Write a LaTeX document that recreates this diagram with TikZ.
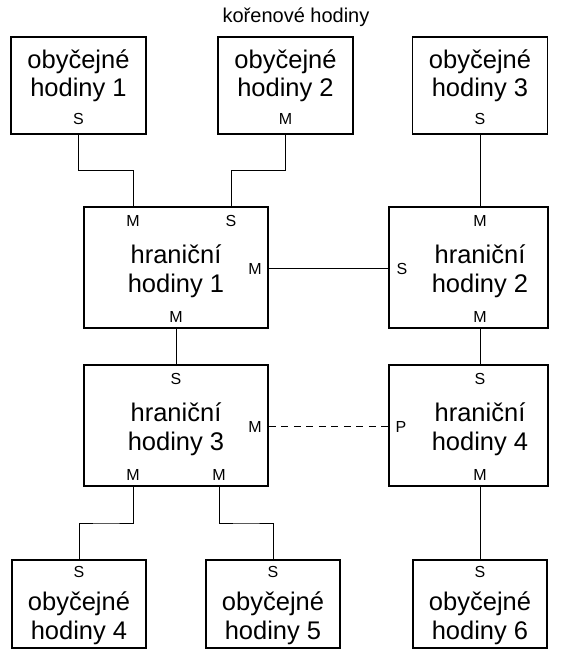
\documentclass[tikz,border=0pt]{standalone}
\usepackage{fontspec}
\setmainfont{Liberation Sans}
\usetikzlibrary{calc}
\begin{document}
\begin{tikzpicture}[x=1pt,y=-1pt,
  clockbox/.style={draw, line width=1.6pt, inner sep=0pt},
  ordbox/.style={clockbox, minimum width=135pt, minimum height=97pt},
  lowbox/.style={clockbox, minimum width=134pt, minimum height=88pt},
  bndbox/.style={clockbox, minimum height=121pt},
  big/.style={font=\fontsize{25.5}{30}\selectfont, anchor=base, inner sep=0pt},
  port/.style={font=\fontsize{16}{19}\selectfont, anchor=base, inner sep=0pt},
  titletext/.style={font=\fontsize{20}{24}\selectfont, anchor=base, inner sep=0pt},
  link/.style={line width=0.9pt},
  peerlink/.style={link, dash pattern=on 7pt off 5.5pt}]
\useasboundingbox (0,0) rectangle (560,660);

% root clock caption
\node[titletext] (root) at (296,23) {kořenové hodiny};

% ordinary clocks, top row
\node[ordbox] (o1) at (78.5,85.5) {};
\node[ordbox] (o2) at (285.5,85.5) {};
\node[ordbox] (o3) at (480,85.5) {};
\node[big] (o1a) at (78.5,69) {obyčejné};
\node[big] (o1b) at (78.5,97) {hodiny 1};
\node[port] (o1p) at (78.5,125) {S};
\node[big] (o2a) at (285.5,69) {obyčejné};
\node[big] (o2b) at (285.5,97) {hodiny 2};
\node[port] (o2p) at (285.5,125) {M};
\node[big] (o3a) at (480,69) {obyčejné};
\node[big] (o3b) at (480,97) {hodiny 3};
\node[port] (o3p) at (480,125) {S};

% boundary clocks
\node[bndbox, minimum width=184pt] (h1) at (176,267.5) {};
\node[bndbox, minimum width=159pt] (h2) at (468.5,267.5) {};
\node[bndbox, minimum width=184pt] (h3) at (176,425.5) {};
\node[bndbox, minimum width=159pt] (h4) at (468.5,425.5) {};

\node[big] (h1a) at (176,263) {hraniční};
\node[big] (h1b) at (176,292) {hodiny 1};
\node[port] (h1p1) at (133,226) {M};
\node[port] (h1p2) at (231,226) {S};
\node[port] (h1p3) at (255,274) {M};
\node[port] (h1p4) at (176,322) {M};

\node[big] (h2a) at (480,263) {hraniční};
\node[big] (h2b) at (480,292) {hodiny 2};
\node[port] (h2p1) at (480,226) {M};
\node[port] (h2p2) at (402,274) {S};
\node[port] (h2p3) at (480,322) {M};

\node[big] (h3a) at (176,421) {hraniční};
\node[big] (h3b) at (176,450) {hodiny 3};
\node[port] (h3p1) at (176,384) {S};
\node[port] (h3p2) at (255,432) {M};
\node[port] (h3p3) at (133,480) {M};
\node[port] (h3p4) at (219,480) {M};

\node[big] (h4a) at (480,421) {hraniční};
\node[big] (h4b) at (480,450) {hodiny 4};
\node[port] (h4p1) at (480,384) {S};
\node[port] (h4p2) at (401,432) {P};
\node[port] (h4p3) at (480,480) {M};

% ordinary clocks, bottom row
\node[lowbox] (o4) at (79,604) {};
\node[lowbox] (o5) at (273,604) {};
\node[lowbox] (o6) at (480,604) {};
\node[port] (o4p) at (79,577) {S};
\node[big] (o4a) at (79,610.5) {obyčejné};
\node[big] (o4b) at (79,639) {hodiny 4};
\node[port] (o5p) at (273,577) {S};
\node[big] (o5a) at (273,610.5) {obyčejné};
\node[big] (o5b) at (273,639) {hodiny 5};
\node[port] (o6p) at (480,577) {S};
\node[big] (o6a) at (480,610.5) {obyčejné};
\node[big] (o6b) at (480,639) {hodiny 6};

% port positions on box edges
\coordinate (h1in1) at (h1.north -| h1p1);
\coordinate (h1in2) at (h1.north -| h1p2);
\coordinate (h2in) at (h2.north -| h2p1);
\coordinate (h3out1) at (h3.south -| h3p3);
\coordinate (h3out2) at (h3.south -| h3p4);
\coordinate (h4out) at (h4.south -| h4p3);
\coordinate (row1) at (0,268);
\coordinate (row2) at (0,426);

% links
\draw[link] (o1.south) |- ($(o1.south)!0.5!(h1in1)$) -| (h1in1);
\draw[link] (o2.south) |- ($(o2.south)!0.5!(h1in2)$) -| (h1in2);
\draw[link] (o3.south) -- (h2in);
\draw[link] (h1.east |- row1) -- (h2.west |- row1);
\draw[link] (h1.south) -- (h3.north);
\draw[link] (h2.south -| h2p3) -- (h4.north -| h4p1);
\draw[peerlink] (h3.east |- row2) -- (h4.west |- row2);
\draw[link] (h3out1) |- ($(h3out1)!0.5!(o4.north)$) -| (o4.north);
\draw[link] (h3out2) |- ($(h3out2)!0.5!(o5.north)$) -| (o5.north);
\draw[link] (h4out) -- (o6.north);
\end{tikzpicture}
\end{document}
